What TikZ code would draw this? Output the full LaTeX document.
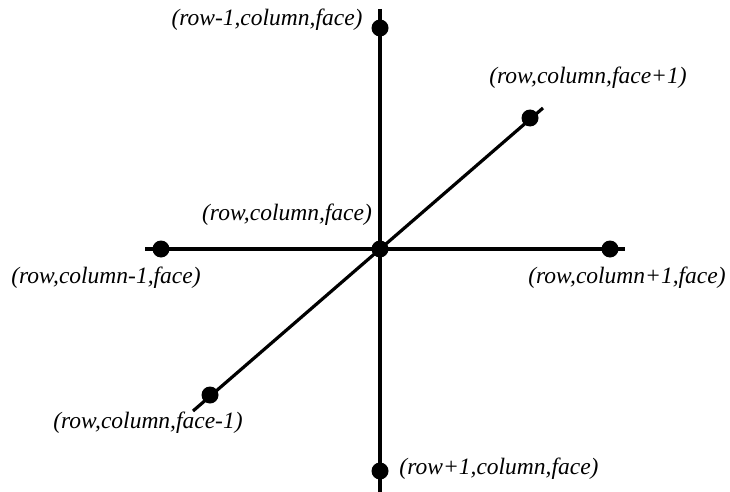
\documentclass[tikz,border=0pt]{standalone}
\usepackage{fontspec}
\setmainfont{Liberation Serif}
\begin{document}
\begin{tikzpicture}[x=1pt,y=-1pt,
  dot/.style={circle,fill=black,inner sep=0pt,minimum size=17pt},
  axis/.style={line width=3.2pt,black},
  lbl/.style={inner sep=0pt,font=\fontsize{23.5}{27}\selectfont\itshape}]
\useasboundingbox (0,0) rectangle (730,492);
% free ends of the axes
\coordinate (vtop) at (380,9);
\coordinate (vbot) at (380,492);
\coordinate (hl) at (145,249);
\coordinate (hr) at (625,249);
\coordinate (dtop) at (543,108);
\coordinate (dbot) at (193,411);
\draw[axis] (vtop) -- (vbot);
\draw[axis] (hl) -- (hr);
\draw[axis] (dbot) -- (dtop);
% points
\node[dot] (c) at (380,249) {};
\node[dot] (up) at (380,28) {};
\node[dot] (down) at (380,471) {};
\node[dot] (left) at (161,249) {};
\node[dot] (right) at (610,249) {};
\node[dot] (fp) at (530,118) {};
\node[dot] (fm) at (210,395) {};
% labels
\node[lbl] (lup) at (267,20) {(row-1,column,face)};
\node[lbl] (lfp) at (588,78) {(row,column,face+1)};
\node[lbl] (lc) at (287,215) {(row,column,face)};
\node[lbl] (lleft) at (106,278) {(row,column-1,face)};
\node[lbl] (lright) at (627,278) {(row,column+1,face)};
\node[lbl] (lfm) at (148,423) {(row,column,face-1)};
\node[lbl] (ldown) at (499,469) {(row+1,column,face)};
\end{tikzpicture}
\end{document}
